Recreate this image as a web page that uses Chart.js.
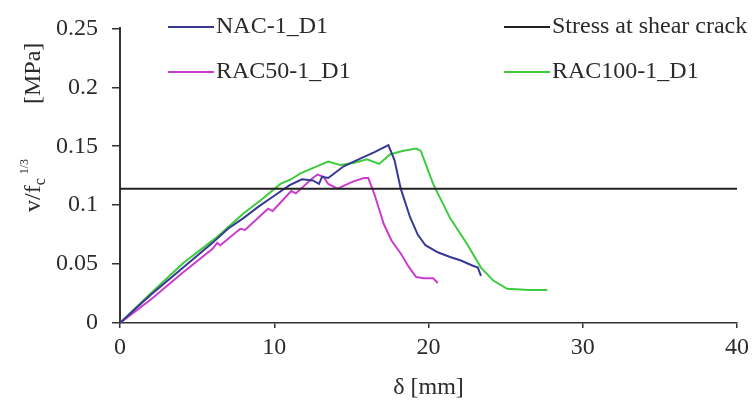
<!DOCTYPE html>
<html>
<head>
<meta charset="utf-8">
<script src="https://cdn.jsdelivr.net/npm/chart.js@4/dist/chart.umd.min.js"></script>
<style>
  html, body { margin: 0; padding: 0; background: #ffffff; }
  #wrap { width: 754px; height: 411px; }
</style>
</head>
<body>
<div id="wrap"><canvas id="c" width="754" height="411"></canvas></div>
<script>
// ---- data ----
const xTickLabels = ["0", "10", "20", "30", "40"];
const yTickLabels = ["0", "0.05", "0.1", "0.15", "0.2", "0.25"];

const nacX = [0, 1, 2, 3, 4, 5, 6, 7, 8, 9, 10, 11, 11.8, 12.5, 12.9, 13.1, 13.5, 14.5, 15.5, 16.5, 17.4, 17.8, 18.2, 18.8, 19.3, 19.8, 20.6, 21.4, 22.1, 22.8, 23.2, 23.4];
const nacY = [0, 0.012, 0.024, 0.035, 0.046, 0.057, 0.068, 0.080, 0.089, 0.099, 0.108, 0.117, 0.122, 0.121, 0.118, 0.124, 0.123, 0.133, 0.139, 0.145, 0.151, 0.138, 0.114, 0.090, 0.075, 0.066, 0.060, 0.056, 0.053, 0.049, 0.047, 0.040];

const rac50X = [0, 2, 4, 6, 6.3, 6.5, 7.8, 8.1, 9.6, 9.9, 11.1, 11.4, 12.4, 12.8, 13.2, 13.5, 14.1, 15.1, 15.8, 16.1, 16.5, 17.1, 17.6, 18.2, 18.7, 19.2, 19.7, 20.3, 20.6];
const rac50Y = [0, 0.020, 0.042, 0.063, 0.068, 0.066, 0.080, 0.079, 0.097, 0.095, 0.112, 0.110, 0.122, 0.126, 0.124, 0.118, 0.114, 0.120, 0.123, 0.123, 0.109, 0.084, 0.070, 0.059, 0.048, 0.039, 0.038, 0.038, 0.034];

const rac100X = [0, 1.9, 4.1, 6.2, 8.0, 9.2, 10.4, 11.1, 11.7, 12.6, 13.5, 14.3, 15.2, 16.0, 16.8, 17.5, 18.3, 19.2, 19.5, 20.3, 21.4, 22.5, 23.4, 24.2, 25.1, 26.5, 27.7];
const rac100Y = [0, 0.024, 0.051, 0.072, 0.093, 0.105, 0.118, 0.122, 0.127, 0.132, 0.137, 0.134, 0.136, 0.139, 0.135, 0.143, 0.146, 0.148, 0.146, 0.118, 0.089, 0.067, 0.047, 0.036, 0.029, 0.028, 0.028];

const stressX = [0, 40];
const stressY = [0.114, 0.114];

const seriesNames = ["NAC-1_D1", "RAC50-1_D1", "RAC100-1_D1", "Stress at shear crack"];

// ---- build ----
const pts = (xs, ys) => xs.map((x, i) => ({ x: x, y: ys[i] }));
const FONT = "'Liberation Serif', 'Times New Roman', serif";
const TXT = "#2b2b2b";

const legendPlugin = {
  id: "gridLegend",
  afterDraw(chart) {
    const ctx = chart.ctx;
    const spots = [
      { ds: 0, x: 168, y: 27 },
      { ds: 3, x: 504, y: 27 },
      { ds: 1, x: 168, y: 72 },
      { ds: 2, x: 504, y: 72 }
    ];
    ctx.save();
    ctx.font = "24px " + FONT;
    ctx.textBaseline = "middle";
    ctx.textAlign = "left";
    spots.forEach(s => {
      const d = chart.data.datasets[s.ds];
      ctx.strokeStyle = d.borderColor;
      ctx.lineWidth = 2;
      ctx.beginPath();
      ctx.moveTo(s.x, s.y);
      ctx.lineTo(s.x + 46, s.y);
      ctx.stroke();
      ctx.fillStyle = TXT;
      ctx.fillText(d.label, s.x + 48, s.y);
    });
    ctx.restore();
  }
};

const titlesPlugin = {
  id: "axisTitles",
  afterDraw(chart) {
    const ctx = chart.ctx;
    const area = chart.chartArea;
    ctx.save();
    ctx.fillStyle = TXT;
    // x title
    ctx.font = "24px " + FONT;
    ctx.textAlign = "center";
    ctx.textBaseline = "middle";
    ctx.fillText("\u03b4 [mm]", (area.left + area.right) / 2, 388);
    // y title (rotated, with sub/superscript)
    ctx.translate(34, 212);
    ctx.rotate(-Math.PI / 2);
    ctx.textAlign = "left";
    ctx.textBaseline = "middle";
    let x = 0;
    ctx.font = "24px " + FONT;
    ctx.fillText("v/f", x, 0);
    x += ctx.measureText("v/f").width;
    ctx.font = "16px " + FONT;
    ctx.fillText("c", x, 7);
    x += ctx.measureText("c").width + 4;
    ctx.font = "12px " + FONT;
    ctx.fillText("1/3", x, -9);
    ctx.font = "24px " + FONT;
    ctx.fillText("[MPa]", 108, 0);
    ctx.restore();
  }
};

new Chart(document.getElementById("c"), {
  type: "scatter",
  data: {
    datasets: [
      { label: seriesNames[0], data: pts(nacX, nacY), borderColor: "#383896", borderWidth: 2, showLine: true, pointRadius: 0, tension: 0, order: 2 },
      { label: seriesNames[1], data: pts(rac50X, rac50Y), borderColor: "#cc3ccc", borderWidth: 2, showLine: true, pointRadius: 0, tension: 0, order: 3 },
      { label: seriesNames[2], data: pts(rac100X, rac100Y), borderColor: "#3ccc3c", borderWidth: 2, showLine: true, pointRadius: 0, tension: 0, order: 4 },
      { label: seriesNames[3], data: pts(stressX, stressY), borderColor: "#222222", borderWidth: 2, showLine: true, pointRadius: 0, tension: 0, order: 1 }
    ]
  },
  options: {
    responsive: false,
    animation: false,
    devicePixelRatio: 1,
    layout: { padding: { top: 26, right: 17, left: 0, bottom: 0 } },
    plugins: { legend: { display: false }, tooltip: { enabled: false } },
    scales: {
      x: {
        type: "linear", min: 0, max: 40,
        ticks: { stepSize: 10, color: TXT, font: { family: FONT, size: 24 }, padding: 5,
                 callback: (v, i) => xTickLabels[i] },
        grid: { drawOnChartArea: false, drawTicks: true, tickLength: 5, color: "#333", lineWidth: 1.5 },
        border: { color: "#333", width: 1.5 },
        afterFit: s => { s.height = 88; }
      },
      y: {
        type: "linear", min: 0, max: 0.25,
        ticks: { stepSize: 0.05, color: TXT, font: { family: FONT, size: 24 }, padding: 14,
                 callback: (v, i) => yTickLabels[i] },
        grid: { drawOnChartArea: false, drawTicks: true, tickLength: 8, color: "#333", lineWidth: 1.5 },
        border: { color: "#333", width: 2 },
        afterFit: s => { s.width = 120; }
      }
    }
  },
  plugins: [legendPlugin, titlesPlugin]
});
</script>
</body>
</html>
